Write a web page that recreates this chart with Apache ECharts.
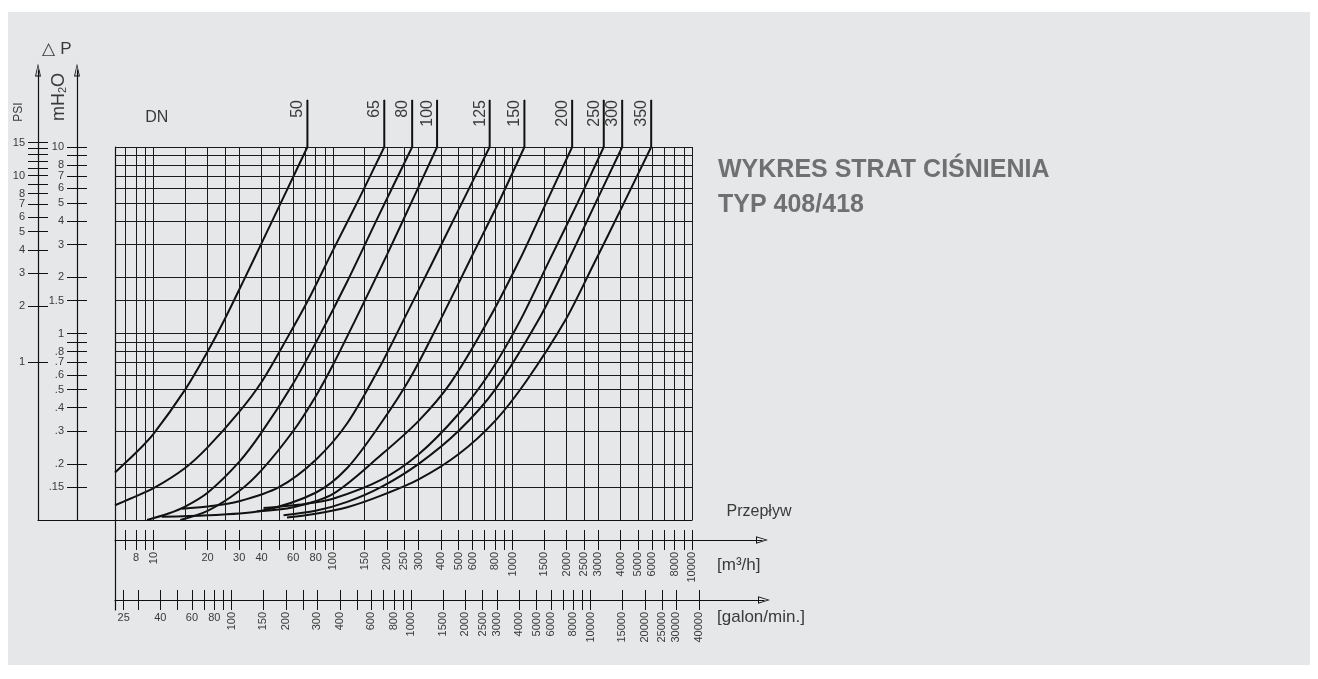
<!DOCTYPE html>
<html>
<head>
<meta charset="utf-8">
<title>Wykres strat ciśnienia</title>
<script src="https://cdn.jsdelivr.net/npm/echarts@6.0.0/dist/echarts.min.js"></script>
<style>
  html, body { margin:0; padding:0; background:#ffffff; }
  #panel { position:absolute; left:8px; top:12px; width:1302px; height:653px; background:#e6e7e8; }
  #chart { position:absolute; left:0; top:0; width:1318px; height:679px; }
</style>
</head>
<body>
<div id="panel"></div>
<div id="chart"></div>
<script>
// ---------------- data ----------------
const flowGrid = [7,8,9,10,15,20,25,30,40,50,60,70,80,90,100,150,200,250,300,400,500,600,700,800,900,1000,1500,2000,2500,3000,4000,5000,6000,7000,8000,9000,10000];
const flowLabelsFlat = [8,20,30,40,60,80];
const flowLabelsRot = [10,100,150,200,250,300,400,500,600,800,1000,1500,2000,2500,3000,4000,5000,6000,8000,10000];
const galTicks = [25,30,40,50,60,70,80,90,100,150,200,250,300,400,500,600,700,800,900,1000,1500,2000,2500,3000,4000,5000,6000,7000,8000,9000,10000,15000,20000,25000,30000,40000];
const galLabelsFlat = [25,40,60,80];
const galLabelsRot = [100,150,200,300,400,600,800,1000,1500,2000,2500,3000,4000,5000,6000,8000,10000,15000,20000,25000,30000,40000];
const dpGrid = [0.15,0.2,0.3,0.4,0.5,0.6,0.7,0.8,0.9,1,1.5,2,3,4,5,6,7,8,9,10];
const dpLabels = [0.15,0.2,0.3,0.4,0.5,0.6,0.7,0.8,1,1.5,2,3,4,5,6,7,8,10];
const psiTicks = [1,2,3,4,5,6,7,8,9,10,11,12,13,14,15];
const psiLabels = [1,2,3,4,5,6,7,8,10,15];
const dnNames = ['50','65','80','100','125','150','200','250','300','350'];
// curves: [flow m3/h, pressure drop mH2O]
const dn50  = [[6.1,0.18],[8,0.23],[10,0.29],[15,0.5],[20,0.8],[25,1.2],[32,1.95],[40,3.05],[55,5.8],[72,10]];
const dn65  = [[6.1,0.12],[7.4,0.13],[10,0.148],[15,0.19],[20,0.245],[30,0.38],[40,0.55],[55,0.93],[75,1.6],[100,2.8],[140,5.3],[193,10]];
const dn80  = [[9.2,0.1],[12,0.108],[15,0.118],[20,0.14],[30,0.205],[40,0.295],[60,0.54],[83,0.95],[120,1.9],[180,4.3],[276,10]];
const dn100 = [[14.1,0.1],[20,0.112],[30,0.143],[40,0.185],[60,0.3],[80,0.46],[100,0.68],[133,1.18],[200,2.65],[280,5.3],[380,10]];
const dn125 = [[14.4,0.115],[20,0.118],[30,0.126],[50,0.15],[80,0.21],[120,0.33],[185,0.68],[247,1.18],[350,2.3],[500,4.6],[746,10]];
const dn150 = [[11.1,0.104],[20,0.106],[40,0.112],[80,0.14],[120,0.19],[185,0.33],[270,0.58],[396,1.18],[600,2.65],[850,5.2],[1165,10]];
const dn200 = [[37.7,0.111],[60,0.117],[100,0.138],[185,0.223],[300,0.34],[450,0.54],[734,1.18],[1100,2.5],[1500,4.75],[2149,10]];
const dn250 = [[41,0.116],[70,0.122],[100,0.13],[185,0.164],[300,0.225],[500,0.37],[750,0.62],[1107,1.18],[1600,2.45],[2300,5.0],[3224,10]];
const dn300 = [[53,0.106],[80,0.112],[120,0.125],[185,0.15],[300,0.2],[500,0.3],[800,0.5],[1394,1.18],[2000,2.35],[2900,5.0],[4083,10]];
const dn350 = [[55.4,0.103],[80,0.108],[120,0.117],[185,0.135],[300,0.165],[500,0.225],[800,0.34],[1200,0.56],[1972,1.18],[2800,2.3],[4000,4.6],[5924,10]];
const curves = [dn50,dn65,dn80,dn100,dn125,dn150,dn200,dn250,dn300,dn350];

// ---------------- scales / layout ----------------
const Q_MIN = 6.1, Q_MAX = 10000, P_MIN = 0.1, P_MAX = 10;
const GAL_PER_M3H = 3.6662;   // imperial gallons per minute in 1 m3/h
const M_PER_PSI = 0.70307;
const MAIN = {left:115, top:147, width:577, height:373};
const decX = MAIN.width / Math.log10(Q_MAX / Q_MIN);
const decY = MAIN.height / Math.log10(P_MAX / P_MIN);
const qSpan = px => Q_MIN * Math.pow(10, px / decX);
const pSpan = px => P_MIN * Math.pow(10, px / decY);
const LEFT = {top:70, height:450};
const FLOW = {top:520, height:20, width:647};
const GAL = {top:540, height:60, width:649};
const DNG = {top:100, height:420};
const pLeftMax = pSpan(LEFT.height);
const qFlowMax = qSpan(FLOW.width);
const qGalMax = qSpan(GAL.width);
const pDnMax = pSpan(DNG.height);

const FONT = "'Liberation Sans', Arial, Helvetica, sans-serif";
const INK = '#111111';
const TXT = '#3a3a3a';
const fmtPlain = v => String(+(+v).toPrecision(6));
const fmtDp = v => { const s = String(+(+v).toPrecision(6)); return v < 1 ? s.replace(/^0/, '') : s; };
const yArrow = 'path://M3 0L6 13L0 13Z M3 2.8L1.2 12L4.8 12Z';
const xArrow = 'path://M3.75 0L7.5 12L0 12Z M3.75 2.6L1.3 11L6.2 11Z';
const plainLine = {show:true, onZero:false, lineStyle:{color:INK, width:1.2}};
const yArrowLine = {show:true, onZero:false, symbol:['none', yArrow], symbolSize:[6,13], lineStyle:{color:INK, width:1.2}};
const xArrowLine = {show:true, onZero:false, symbol:['none', xArrow], symbolSize:[7.5,12], lineStyle:{color:INK, width:1.2}};

function hiddenValue(gi){ return {gridIndex:gi, type:'value', min:0, max:1, show:false}; }
function tickAxis(base, ticks, inside, labels, labelOpts, line){
  return Object.assign({}, base, {
    axisLine: line ? line : {show:false},
    axisTick: {show:true, customValues:ticks, inside:inside, length:10, lineStyle:{color:INK, width:1}},
    axisLabel: labels ? Object.assign({show:true, customValues:labels, color:TXT, fontFamily:FONT, fontSize:11}, labelOpts) : {show:false},
    splitLine:{show:false}, minorTick:{show:false}, minorSplitLine:{show:false}
  });
}
function lineOnly(base, line){
  return Object.assign({}, base, {axisLine:line, axisTick:{show:false}, axisLabel:{show:false}, splitLine:{show:false}});
}
function gridBox(l,t,w,h){ return {left:l, top:t, width:w, height:h, containLabel:false, outerBoundsMode:'none', show:false}; }

const flowBase = {gridIndex:3, type:'log', min:Q_MIN, max:qFlowMax, position:'bottom'};
const galBase = {gridIndex:4, type:'log', min:Q_MIN*GAL_PER_M3H, max:qGalMax*GAL_PER_M3H, position:'bottom'};
const psiBase = {gridIndex:1, type:'log', min:P_MIN/M_PER_PSI, max:pLeftMax/M_PER_PSI, position:'left'};
const mBase = {gridIndex:2, type:'log', min:P_MIN, max:pLeftMax, position:'left'};

const xAxes = [
  lineOnly({gridIndex:0, type:'log', min:Q_MIN, max:Q_MAX}, plainLine),
  lineOnly({gridIndex:1, type:'value', min:0, max:1}, plainLine),
  hiddenValue(2),
  tickAxis(flowBase, flowGrid, false, flowLabelsFlat, {margin:12, formatter:fmtPlain}, xArrowLine),
  tickAxis(flowBase, flowGrid, true, flowLabelsRot, {margin:12, rotate:90, formatter:fmtPlain}, null),
  tickAxis(galBase, galTicks, false, galLabelsFlat, {margin:12, formatter:fmtPlain}, xArrowLine),
  tickAxis(galBase, galTicks, true, galLabelsRot, {margin:12, rotate:90, formatter:fmtPlain}, null),
  hiddenValue(5),
  {gridIndex:6, type:'log', min:Q_MIN, max:Q_MAX, show:false}
];
const yAxes = [
  lineOnly({gridIndex:0, type:'log', min:P_MIN, max:P_MAX}, plainLine),
  tickAxis(psiBase, psiTicks, false, psiLabels, {margin:13, formatter:fmtPlain}, yArrowLine),
  tickAxis(psiBase, psiTicks, true, null, null, null),
  tickAxis(mBase, dpGrid, false, dpLabels, {margin:13, formatter:fmtDp}, yArrowLine),
  tickAxis(mBase, dpGrid, true, null, null, null),
  hiddenValue(3),
  hiddenValue(4),
  lineOnly({gridIndex:5, type:'value', min:0, max:1}, plainLine),
  {gridIndex:6, type:'log', min:P_MIN, max:pDnMax, show:false}
];

const series = [];
series.push({
  type:'line', xAxisIndex:0, yAxisIndex:0, data:[[10,1]], showSymbol:false, lineStyle:{opacity:0}, silent:true, z:1,
  markLine:{
    silent:true, symbol:['none','none'], animation:false, label:{show:false},
    lineStyle:{color:'#1b1b1b', width:1, type:'solid'}, emphasis:{disabled:true},
    data: flowGrid.map(v => ({xAxis:v})).concat(dpGrid.map(v => ({yAxis:v})))
  }
});
curves.forEach((c, i) => series.push({
  type:'line', name:'DN' + dnNames[i], xAxisIndex:0, yAxisIndex:0, data:c,
  smooth:0.3, symbol:'none', silent:true, z:3,
  lineStyle:{color:INK, width:2}
}));
curves.forEach((c, i) => {
  const q = c[c.length - 1][0];
  series.push({
    type:'line', xAxisIndex:8, yAxisIndex:8, silent:true, z:3,
    data:[[q, c[c.length - 1][1]], {value:[q, pDnMax], label:{show:true}}],
    symbol:'circle', symbolSize:1, itemStyle:{color:INK}, lineStyle:{color:INK, width:2},
    label:{show:false, formatter:dnNames[i], rotate:90, position:[-1, 0.5], align:'right', verticalAlign:'bottom',
           fontSize:16, color:TXT, fontFamily:FONT}
  });
});

const titleFont = "bold 25px " + FONT;
const option = {
  animation:false,
  backgroundColor:'transparent',
  textStyle:{fontFamily:FONT},
  grid:[
    gridBox(MAIN.left, MAIN.top, MAIN.width, MAIN.height),
    gridBox(38, LEFT.top, 77, LEFT.height),
    gridBox(77, LEFT.top, 38, LEFT.height),
    gridBox(115, FLOW.top, FLOW.width, FLOW.height),
    gridBox(115, GAL.top, GAL.width, GAL.height),
    gridBox(115, 520, 20, 90),
    gridBox(MAIN.left, DNG.top, MAIN.width, DNG.height)
  ],
  xAxis:xAxes,
  yAxis:yAxes,
  series:series,
  graphic:[
    {type:'text', x:718, y:158, silent:true, style:{text:'WYKRES STRAT CIŚNIENIA', font:titleFont, fill:'#6f7072'}},
    {type:'text', x:718, y:193, silent:true, style:{text:'TYP 408/418', font:titleFont, fill:'#6f7072'}},
    {type:'text', x:156.7, y:117.5, silent:true, style:{text:'DN', font:"16px " + FONT, fill:TXT, align:'center', verticalAlign:'middle'}},
    {type:'text', x:57, y:49, silent:true, style:{text:'△ P', font:"17px " + FONT, fill:TXT, align:'center', verticalAlign:'middle'}},
    {type:'text', x:19, y:112, rotation:Math.PI/2, silent:true, style:{text:'PSI', font:"12px " + FONT, fill:TXT, align:'center', verticalAlign:'middle'}},
    {type:'text', x:59, y:97, rotation:Math.PI/2, silent:true, style:{
      text:'{a|mH}{b|2}{a|O}', align:'center', verticalAlign:'middle',
      rich:{a:{fontSize:18, fontFamily:FONT, fill:TXT}, b:{fontSize:11, fontFamily:FONT, fill:TXT, verticalAlign:'bottom'}}}},
    {type:'text', x:759, y:512, silent:true, style:{text:'Przepływ', font:"16px " + FONT, fill:TXT, align:'center', verticalAlign:'middle'}},
    {type:'text', x:717, y:565, silent:true, style:{text:'[m³/h]', font:"17px " + FONT, fill:TXT, align:'left', verticalAlign:'middle'}},
    {type:'text', x:717, y:617, silent:true, style:{text:'[galon/min.]', font:"17px " + FONT, fill:TXT, align:'left', verticalAlign:'middle'}}
  ]
};

const chart = echarts.init(document.getElementById('chart'), null, {renderer:'canvas', width:1318, height:679});
chart.setOption(option);
</script>
</body>
</html>
